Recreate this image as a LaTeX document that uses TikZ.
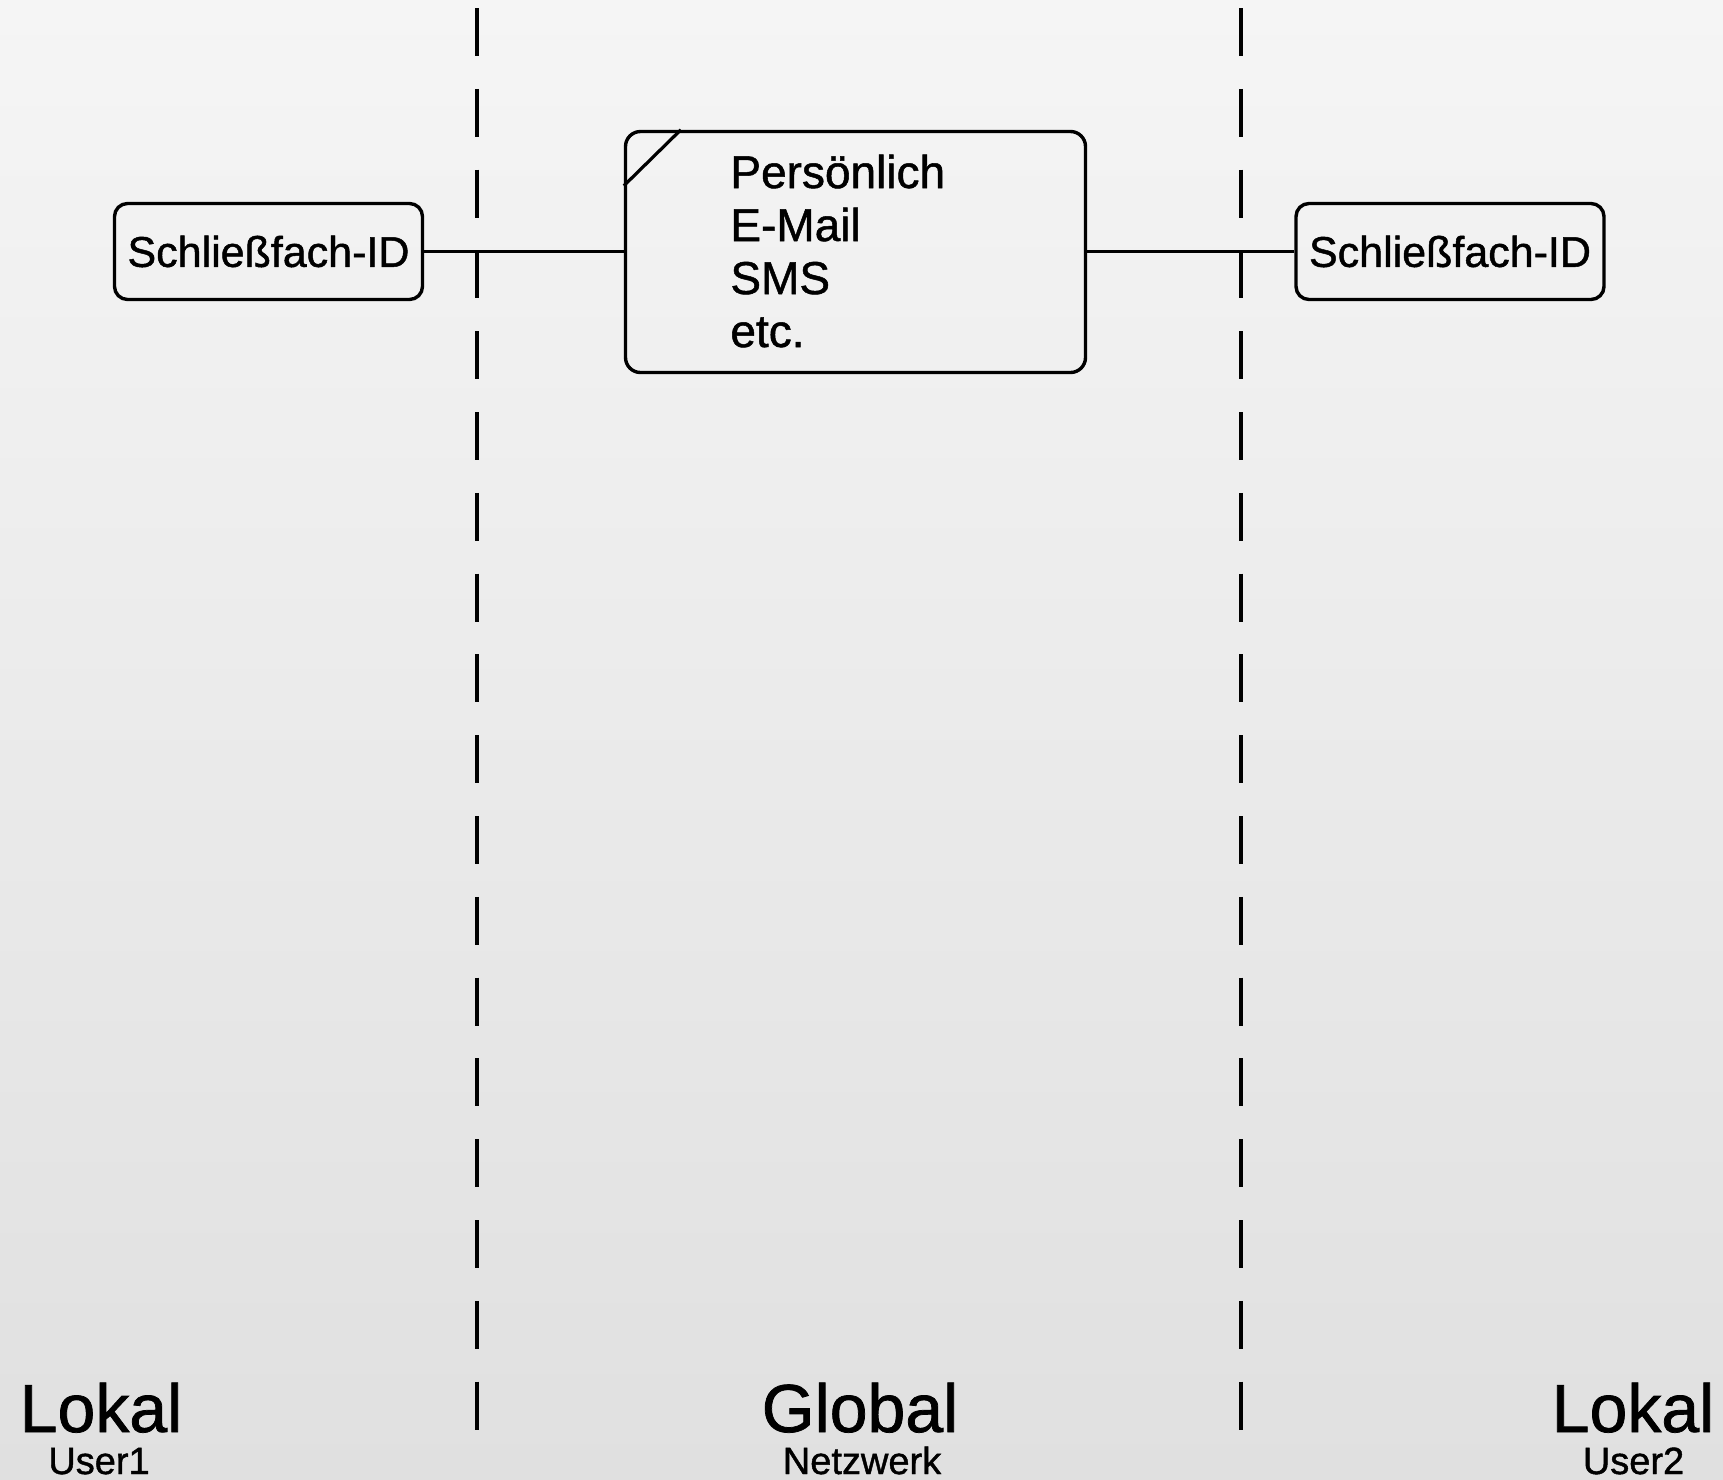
\documentclass[tikz,border=0pt]{standalone}
\usepackage{fontspec}
\setmainfont{Liberation Sans}
\newfontfamily\heavysans[FakeBold=1.1]{Liberation Sans}
\usetikzlibrary{calc}
\definecolor{bgtop}{HTML}{F5F5F5}
\definecolor{bgbottom}{HTML}{E0E0E0}
\tikzset{
  idbox/.style={draw=black, line width=1.7pt, rounded corners=6.5pt,
    minimum width=154pt, minimum height=48pt, inner sep=0pt,
    font=\heavysans\fontsize{21.5}{25}\selectfont},
  infobox/.style={draw=black, line width=1.7pt, rounded corners=7.5pt,
    minimum width=230pt, minimum height=120.5pt, inner sep=0pt},
  listtext/.style={align=left, inner sep=0pt, font=\heavysans\fontsize{23}{26.5}\selectfont},
  zoneline/.style={line width=1.6pt, dash pattern=on 24pt off 16.4pt},
  link/.style={line width=1.6pt},
  zonetitle/.style={anchor=base, inner sep=0pt, font=\heavysans\fontsize{34}{36}\selectfont},
  zonesub/.style={anchor=base, inner sep=0pt, font=\heavysans\fontsize{19}{22}\selectfont}
}
\begin{document}
\begin{tikzpicture}[x=0.5pt, y=-0.5pt]
  % background
  \shade[top color=bgtop, bottom color=bgbottom] (0,0) rectangle (1723,1479);
  \useasboundingbox (0,0) rectangle (1723,1479);

  % zone separators
  \coordinate (sepLtop) at (477,8);
  \coordinate (sepLbot) at (477,1430);
  \coordinate (sepRtop) at (1241,8);
  \coordinate (sepRbot) at (1241,1430);
  \draw[zoneline] (sepLtop) -- (sepLbot);
  \draw[zoneline] (sepRtop) -- (sepRbot);

  % boxes
  \node[idbox] (idL) at (268.5,251.5) {Schließfach-ID};
  \node[idbox] (idR) at (1450,251.5) {Schließfach-ID};
  \node[infobox] (info) at (855.5,252) {};
  \draw[link] ($(info.north west)+(57,0)$) -- ($(info.north west)+(0,56)$);
  % base anchor of a multi-line node sits on its last line
  \node[listtext, anchor=base west] (infotext) at (730,347)
    {Persönlich\\E-Mail\\SMS\\etc.};

  % connectors
  \draw[link] (idL.east) -- (idL.east -| info.west);
  \draw[link] (info.east |- idR.west) -- (idR.west);

  % zone labels
  \node[zonetitle] (lokalL) at (101,1432) {Lokal};
  \node[zonesub] (user1) at (99,1474) {User1};
  \node[zonetitle] (global) at (860,1432) {Global};
  \node[zonesub] (netz) at (862,1474) {Netzwerk};
  \node[zonetitle] (lokalR) at (1633,1432) {Lokal};
  \node[zonesub] (user2) at (1633.5,1474) {User2};
\end{tikzpicture}
\end{document}
